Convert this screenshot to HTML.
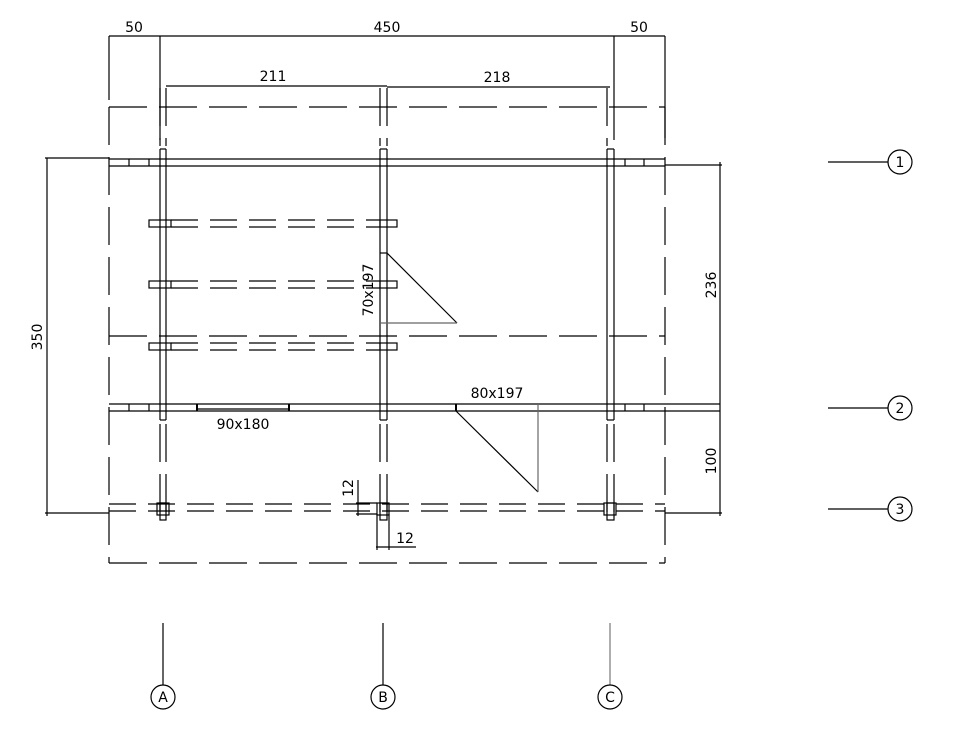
<!DOCTYPE html>
<html><head><meta charset="utf-8"><style>
html,body{margin:0;padding:0;background:#fff;width:955px;height:731px;overflow:hidden}
svg{display:block}
text{font-family:"DejaVu Sans","Liberation Sans",sans-serif;font-size:14px;fill:#000}
</style></head><body>
<svg width="955" height="731" viewBox="0 0 955 731" xmlns="http://www.w3.org/2000/svg">
<g stroke="#000" stroke-width="1.2" fill="none">
<!-- outer dashed rect -->
<g stroke-dasharray="38 12">
<line x1="109" y1="107" x2="665" y2="107"/>
<line x1="109" y1="563" x2="665" y2="563"/>
<line x1="109" y1="107" x2="109" y2="563"/>
<line x1="665" y1="107" x2="665" y2="563"/>
<line x1="109" y1="336" x2="665" y2="336"/>
</g>
<!-- line 3 double dashed -->
<g stroke-dasharray="27 12">
<line x1="109" y1="504" x2="665" y2="504"/>
<line x1="109" y1="511" x2="665" y2="511"/>
</g>
<!-- beams -->
<g stroke-dasharray="27 12">
<line x1="171" y1="220" x2="380" y2="220"/><line x1="171" y1="227" x2="380" y2="227"/>
<line x1="171" y1="281" x2="380" y2="281"/><line x1="171" y1="288" x2="380" y2="288"/>
<line x1="171" y1="343" x2="380" y2="343"/><line x1="171" y1="350" x2="380" y2="350"/>
</g>
<rect x="149" y="220" width="22" height="7"/><rect x="149" y="281" width="22" height="7"/><rect x="149" y="343" width="22" height="7"/>
<rect x="380" y="220" width="17" height="7"/><rect x="380" y="281" width="17" height="7"/><rect x="380" y="343" width="17" height="7"/>
<!-- walls -->
<line x1="109" y1="159" x2="665" y2="159"/>
<line x1="109" y1="166" x2="665" y2="166"/>
<line x1="129" y1="159" x2="129" y2="166"/><line x1="149" y1="159" x2="149" y2="166"/>
<line x1="625" y1="159" x2="625" y2="166"/><line x1="644" y1="159" x2="644" y2="166"/>
<line x1="109" y1="404" x2="720" y2="404"/>
<line x1="109" y1="411" x2="720" y2="411"/>
<line x1="129" y1="404" x2="129" y2="411"/><line x1="149" y1="404" x2="149" y2="411"/>
<line x1="625" y1="404" x2="625" y2="411"/><line x1="644" y1="404" x2="644" y2="411"/>
<!-- window -->
<line x1="197" y1="404" x2="197" y2="411" stroke-width="2"/>
<line x1="289" y1="404" x2="289" y2="411" stroke-width="2"/>
<line x1="197" y1="409" x2="289" y2="409"/>
<!-- columns solid part -->
<g>
<line x1="160" y1="149" x2="160" y2="420"/><line x1="166" y1="149" x2="166" y2="420"/><line x1="160" y1="149" x2="166" y2="149"/><line x1="160" y1="420" x2="166" y2="420"/>
<line x1="380" y1="149" x2="380" y2="420"/><line x1="387" y1="149" x2="387" y2="420"/><line x1="380" y1="149" x2="387" y2="149"/><line x1="380" y1="420" x2="387" y2="420"/>
<line x1="607" y1="149" x2="607" y2="420"/><line x1="614" y1="149" x2="614" y2="420"/><line x1="607" y1="149" x2="614" y2="149"/><line x1="607" y1="420" x2="614" y2="420"/>
</g>
<g stroke-dasharray="38 12">
<line x1="160" y1="88" x2="160" y2="146"/><line x1="166" y1="88" x2="166" y2="146"/>
<line x1="380" y1="88" x2="380" y2="146"/><line x1="387" y1="88" x2="387" y2="146"/>
<line x1="607" y1="88" x2="607" y2="146"/>
<line x1="160" y1="424" x2="160" y2="520"/><line x1="166" y1="424" x2="166" y2="520"/>
<line x1="380" y1="424" x2="380" y2="520"/><line x1="387" y1="424" x2="387" y2="520"/>
<line x1="607" y1="424" x2="607" y2="520"/><line x1="614" y1="424" x2="614" y2="520"/>
</g>
<line x1="160" y1="36" x2="160" y2="140"/>
<line x1="614" y1="36" x2="614" y2="140"/>
<line x1="109" y1="36" x2="109" y2="100"/>
<line x1="665" y1="36" x2="665" y2="138"/>
<!-- footings -->
<rect x="157" y="503" width="12" height="12"/><rect x="160" y="503" width="6" height="17"/>
<rect x="377" y="503" width="12" height="12"/><rect x="380" y="503" width="7" height="17"/>
<rect x="604" y="503" width="12" height="12"/><rect x="607" y="503" width="7" height="17"/>
<!-- doors -->
<line x1="380" y1="253" x2="387" y2="253"/>
<line x1="387" y1="253" x2="457" y2="323"/>
<line x1="380" y1="323" x2="457" y2="323" stroke="#666"/>
<line x1="456" y1="404" x2="456" y2="411" stroke-width="2"/>
<line x1="456" y1="411" x2="538" y2="492"/>
<line x1="538" y1="404" x2="538" y2="492" stroke="#666"/>
<!-- dimensions -->
<line x1="109" y1="36" x2="665" y2="36"/>
<line x1="166" y1="86" x2="387" y2="86"/>
<line x1="387" y1="87" x2="610" y2="87"/>
<line x1="45" y1="158" x2="109" y2="158"/>
<line x1="45" y1="513" x2="109" y2="513"/>
<line x1="47" y1="158" x2="47" y2="516"/>
<line x1="665" y1="165" x2="722" y2="165"/>
<line x1="665" y1="513" x2="722" y2="513"/>
<line x1="720" y1="162" x2="720" y2="516"/>
<line x1="358" y1="480" x2="358" y2="516"/>
<line x1="356" y1="503" x2="377" y2="503"/>
<line x1="356" y1="514" x2="377" y2="514"/>
<line x1="377" y1="514" x2="377" y2="550"/>
<line x1="389" y1="514" x2="389" y2="550"/>
<line x1="376" y1="547" x2="416" y2="547"/>
<!-- axis markers -->
<line x1="828" y1="162" x2="888" y2="162"/><circle cx="900" cy="162" r="12"/>
<line x1="828" y1="408" x2="888" y2="408"/><circle cx="900" cy="408" r="12"/>
<line x1="828" y1="509" x2="888" y2="509"/><circle cx="900" cy="509" r="12"/>
<line x1="163" y1="623" x2="163" y2="685"/><circle cx="163" cy="697" r="12"/>
<line x1="383" y1="623" x2="383" y2="685"/><circle cx="383" cy="697" r="12"/>
<line x1="610" y1="623" x2="610" y2="685" stroke="#777"/><circle cx="610" cy="697" r="12"/>
</g>
<text x="134" y="32" text-anchor="middle">50</text>
<text x="387" y="32" text-anchor="middle">450</text>
<text x="639" y="32" text-anchor="middle">50</text>
<text x="273" y="81" text-anchor="middle">211</text>
<text x="497" y="82" text-anchor="middle">218</text>
<text x="243" y="429" text-anchor="middle">90x180</text>
<text x="497" y="398" text-anchor="middle">80x197</text>
<text x="405" y="543" text-anchor="middle">12</text>
<text transform="translate(42,337) rotate(-90)" text-anchor="middle">350</text>
<text transform="translate(716,285) rotate(-90)" text-anchor="middle">236</text>
<text transform="translate(716,461) rotate(-90)" text-anchor="middle">100</text>
<text transform="translate(373,290) rotate(-90)" text-anchor="middle">70x197</text>
<text transform="translate(353,488) rotate(-90)" text-anchor="middle">12</text>
<text x="900" y="167" text-anchor="middle">1</text>
<text x="900" y="413" text-anchor="middle">2</text>
<text x="900" y="514" text-anchor="middle">3</text>
<text x="163" y="702" text-anchor="middle">A</text>
<text x="383" y="702" text-anchor="middle">B</text>
<text x="610" y="702" text-anchor="middle">C</text>
</svg>
</body></html>
